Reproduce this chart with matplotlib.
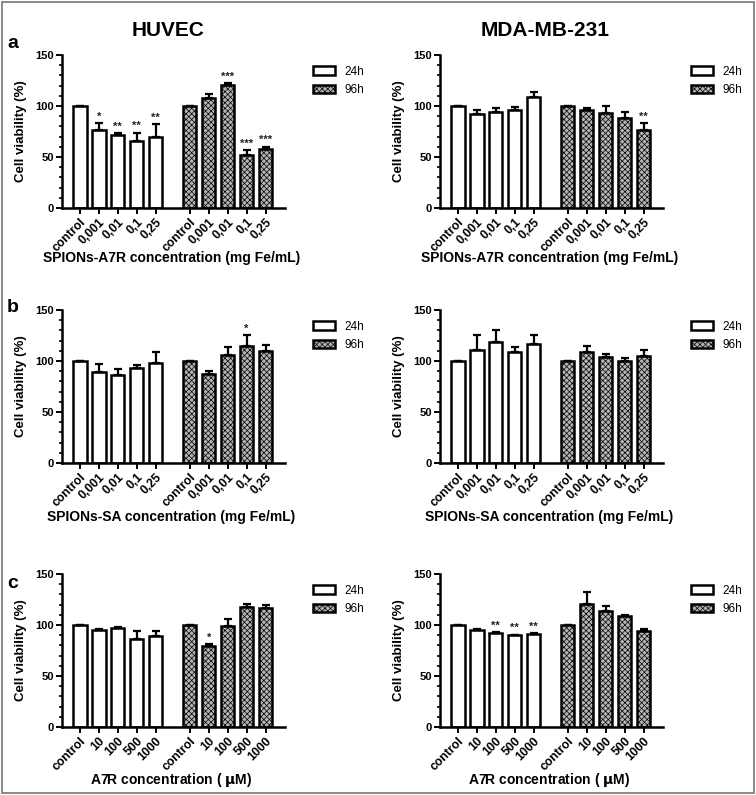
import numpy as np
import matplotlib.pyplot as plt
from matplotlib.patches import Rectangle
from matplotlib.ticker import MultipleLocator

plt.rcParams['font.family'] = ['Liberation Sans', 'DejaVu Sans']
plt.rcParams['font.weight'] = 'bold'
plt.rcParams['hatch.linewidth'] = 0.5

spion_labels = ["control", "0,001", "0,01", "0,1", "0,25"]
a7r_labels = ["control", "10", "100", "500", "1000"]

# panel a - SPIONs-A7R
huvec_a_24 = [100, 76.5, 72, 66, 69.5]
huvec_a_24_err = [0, 6.5, 1.5, 8, 12.5]
huvec_a_96 = [100, 108, 121, 51.5, 58]
huvec_a_96_err = [0, 3.5, 1.5, 5, 2]
huvec_a_stars24 = ["", "*", "**", "**", "**"]
huvec_a_stars96 = ["", "", "***", "***", "***"]

mda_a_24 = [100, 92.5, 94, 95.7, 108.8]
mda_a_24_err = [0, 4, 3.7, 3.6, 4.6]
mda_a_96 = [100, 95.8, 93, 88.6, 76.5]
mda_a_96_err = [0, 1.9, 7, 5.2, 6.5]
mda_a_stars24 = ["", "", "", "", ""]
mda_a_stars96 = ["", "", "", "", "**"]

# panel b - SPIONs-SA
huvec_b_24 = [100, 89, 86.5, 93, 98]
huvec_b_24_err = [0, 7.8, 6, 3, 11]
huvec_b_96 = [100, 87.5, 106, 115, 109.6]
huvec_b_96_err = [0, 2.5, 7.8, 10, 6.2]
huvec_b_stars24 = ["", "", "", "", ""]
huvec_b_stars96 = ["", "", "", "*", ""]

mda_b_24 = [100, 110.5, 119, 108.6, 117]
mda_b_24_err = [0, 14.5, 11, 5.5, 8]
mda_b_96 = [100, 108.6, 104, 100, 105]
mda_b_96_err = [0, 5.8, 3, 3, 6]
mda_b_stars24 = ["", "", "", "", ""]
mda_b_stars96 = ["", "", "", "", ""]

# panel c - A7R
huvec_c_24 = [100, 95.4, 97, 86.3, 89]
huvec_c_24_err = [0, 1, 0.7, 8, 5.4]
huvec_c_96 = [100, 79, 99, 118, 117]
huvec_c_96_err = [0, 2.4, 7, 3, 3]
huvec_c_stars24 = ["", "", "", "", ""]
huvec_c_stars96 = ["", "*", "", "", ""]

mda_c_24 = [100, 95.4, 92, 90, 91]
mda_c_24_err = [0, 0.8, 1, 0.4, 1]
mda_c_96 = [100, 121, 113.7, 109, 94]
mda_c_96_err = [0, 11, 5.3, 1, 2]
mda_c_stars24 = ["", "", "**", "**", "**"]
mda_c_stars96 = ["", "", "", "", ""]

xlabels = ["SPIONs-A7R concentration (mg Fe/mL)",
           "SPIONs-SA concentration (mg Fe/mL)",
           r"A7R concentration ( $\mathrm{\mu}$M)"]

W, H = 756, 795
fig = plt.figure(figsize=(W / 100, H / 100), dpi=100)

pos_24 = np.arange(5)
pos_96 = np.arange(5) + 5.8


def draw(ax, cats, v24, e24, v96, e96, s24, s96, xlab, dy_lab):
    ax.bar(pos_24, v24, 0.7, color="white", edgecolor="black", lw=1.8,
           yerr=[np.zeros(5), e24], capsize=3,
           error_kw=dict(elinewidth=1.6, capthick=1.6), label="24h", zorder=2)
    ax.bar(pos_96, v96, 0.7, color="#b4b4b4", edgecolor="black", lw=1.8,
           hatch="xxxxxx", yerr=[np.zeros(5), e96], capsize=3,
           error_kw=dict(elinewidth=1.6, capthick=1.6), label="96h", zorder=2)
    for x, v, e, s in zip(pos_24, v24, e24, s24):
        if s:
            ax.text(x, v + e + 1.5, s, ha="center", va="bottom", fontsize=8, color="#222222")
    for x, v, e, s in zip(pos_96, v96, e96, s96):
        if s:
            ax.text(x, v + e + 1.5, s, ha="center", va="bottom", fontsize=8, color="#222222")
    ax.set_xlim(-0.95, 10.83)
    ax.set_ylim(0, 150)
    ax.set_yticks([0, 50, 100, 150])
    ax.yaxis.set_minor_locator(MultipleLocator(10))
    ax.set_xticks(np.concatenate([pos_24, pos_96]))
    ax.set_xticklabels(cats + cats, rotation=45, ha="right",
                       rotation_mode="anchor", fontsize=8.8, fontweight="bold")
    for lab in ax.get_yticklabels():
        lab.set_fontsize(8)
        lab.set_fontweight("bold")
    ax.tick_params(axis="both", which="major", length=4, width=1.4, pad=2)
    ax.tick_params(axis="y", which="minor", length=2.5, width=1.2)
    for sp in ["top", "right"]:
        ax.spines[sp].set_visible(False)
    for sp in ["left", "bottom"]:
        ax.spines[sp].set_linewidth(1.8)
    ax.set_ylabel("Cell viability (%)", fontsize=9.5, fontweight="bold")
    ax.yaxis.set_label_coords(-0.157, 0.5)
    ax.text(0.49, dy_lab, xlab, transform=ax.transAxes, ha="center",
            va="center", fontsize=10, fontweight="bold")
    ax.legend(loc="upper left", bbox_to_anchor=(1.08, 1.0), frameon=False,
              prop=dict(size=8.5, weight="normal"), handlelength=1.8,
              handleheight=0.75, handletextpad=0.8, labelspacing=0.55)


rows = [
    (208, (huvec_a_24, huvec_a_24_err, huvec_a_96, huvec_a_96_err, huvec_a_stars24, huvec_a_stars96),
          (mda_a_24, mda_a_24_err, mda_a_96, mda_a_96_err, mda_a_stars24, mda_a_stars96), spion_labels, -0.327),
    (463, (huvec_b_24, huvec_b_24_err, huvec_b_96, huvec_b_96_err, huvec_b_stars24, huvec_b_stars96),
          (mda_b_24, mda_b_24_err, mda_b_96, mda_b_96_err, mda_b_stars24, mda_b_stars96), spion_labels, -0.353),
    (727, (huvec_c_24, huvec_c_24_err, huvec_c_96, huvec_c_96_err, huvec_c_stars24, huvec_c_stars96),
          (mda_c_24, mda_c_24_err, mda_c_96, mda_c_96_err, mda_c_stars24, mda_c_stars96), a7r_labels, -0.346),
]

for i, (y0, left, right, cats, dy) in enumerate(rows):
    for x0, d in [(62, left), (440, right)]:
        ax = fig.add_axes([x0 / W, 1 - y0 / H, 223 / W, 153 / H])
        draw(ax, cats, *d, xlabels[i], dy)

fig.text(168 / W, 1 - 30 / H, "HUVEC", ha="center", va="center", fontsize=15, fontweight="bold")
fig.text(545 / W, 1 - 30 / H, "MDA-MB-231", ha="center", va="center", fontsize=15, fontweight="bold")
for letter, y in [("a", 43), ("b", 307), ("c", 583)]:
    fig.text(7 / W, 1 - y / H, letter, ha="left", va="center", fontsize=14, fontweight="bold")

fig.patches.append(Rectangle((0.002, 0.002), 0.996, 0.996, transform=fig.transFigure,
                             fill=False, ec="#808080", lw=1.3))

fig.savefig("out.png", dpi=100)
